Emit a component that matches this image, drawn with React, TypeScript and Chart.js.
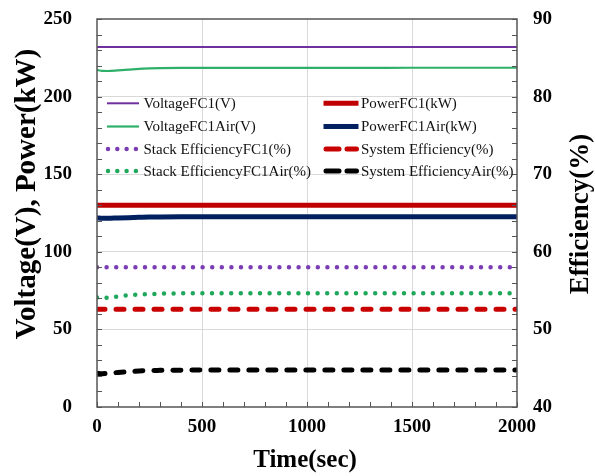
import { useEffect, useRef } from "react";
import { Chart, registerables } from "chart.js";

Chart.register(...registerables);

// ---- data ----
const timeSec = [0, 25, 50, 100, 150, 200, 250, 300, 400, 500, 750, 1000, 1250, 1500, 1750, 2000];
const voltageFC1 = [232, 232, 232, 232, 232, 232, 232, 232, 232, 232, 232, 232, 232, 232, 232, 232];
const voltageFC1Air = [217.2, 216.6, 216.5, 216.9, 217.4, 217.9, 218.2, 218.4, 218.5, 218.5, 218.5, 218.5, 218.5, 218.6, 218.6, 218.6];
const powerFC1 = [130, 130, 130, 130, 130, 130, 130, 130, 130, 130, 130, 130, 130, 130, 130, 130];
const powerFC1Air = [121.8, 121.6, 121.6, 121.8, 122.0, 122.2, 122.4, 122.5, 122.6, 122.6, 122.6, 122.6, 122.6, 122.6, 122.6, 122.6];
const stackEffFC1 = [58.0, 58.0, 58.0, 58.0, 58.0, 58.0, 58.0, 58.0, 58.0, 58.0, 58.0, 58.0, 58.0, 58.0, 58.0, 58.0];
const stackEffFC1Air = [54.1, 54.05, 54.1, 54.25, 54.4, 54.5, 54.55, 54.6, 54.65, 54.65, 54.65, 54.65, 54.65, 54.65, 54.65, 54.65];
const sysEff = [52.6, 52.6, 52.6, 52.6, 52.6, 52.6, 52.6, 52.6, 52.6, 52.6, 52.6, 52.6, 52.6, 52.6, 52.6, 52.6];
const sysEffAir = [44.35, 44.3, 44.35, 44.45, 44.55, 44.65, 44.7, 44.72, 44.75, 44.77, 44.77, 44.77, 44.77, 44.77, 44.77, 44.77];

const seriesLabels = [
  "VoltageFC1(V)",
  "PowerFC1(kW)",
  "VoltageFC1Air(V)",
  "PowerFC1Air(kW)",
  "Stack EfficiencyFC1(%)",
  "System Efficiency(%)",
  "Stack EfficiencyFC1Air(%)",
  "System EfficiencyAir(%)",
];

const xTitle = "Time(sec)";
const yTitle = "Voltage(V), Power(kW)";
const y1Title = "Efficiency(%)";

const X_MIN = 0, X_MAX = 2000, X_STEP = 500;
const Y_MIN = 0, Y_MAX = 250, Y_STEP = 50;
const Y1_MIN = 40, Y1_MAX = 90, Y1_STEP = 10;

const FONT = '"Liberation Serif", "Times New Roman", serif';

type Style = { color: string; width: number; kind: "solid" | "dot" | "dash" };
const styles: Style[] = [
  { color: "#7030A0", width: 2, kind: "solid" },
  { color: "#C00000", width: 5, kind: "solid" },
  { color: "#2EB06A", width: 2.2, kind: "solid" },
  { color: "#002060", width: 5, kind: "solid" },
  { color: "#7A3DB3", width: 4.5, kind: "dot" },
  { color: "#C80000", width: 5, kind: "dash" },
  { color: "#1FA85C", width: 4.5, kind: "dot" },
  { color: "#000000", width: 5, kind: "dash" },
];
const seriesValues = [voltageFC1, powerFC1, voltageFC1Air, powerFC1Air, stackEffFC1, sysEff, stackEffFC1Air, sysEffAir];
const seriesAxis = ["y", "y", "y", "y", "y1", "y1", "y1", "y1"];

const dashFor = (k: Style["kind"]) => (k === "dot" ? [0, 9.6] : k === "dash" ? [8, 11] : []);

const overlay = {
  id: "overlay",
  afterDatasetsDraw(chart: any) {
    const { ctx, chartArea, scales } = chart;
    const { left, right, top, bottom } = chartArea;
    ctx.save();
    // tick marks (inside)
    ctx.strokeStyle = "#555";
    ctx.lineWidth = 1;
    ctx.setLineDash([]);
    ctx.beginPath();
    for (let v = Y_MIN; v <= Y_MAX; v += 10) {
      const y = Math.round(scales.y.getPixelForValue(v)) + 0.5;
      ctx.moveTo(left, y);
      ctx.lineTo(left + 5, y);
    }
    for (let v = Y1_MIN; v <= Y1_MAX; v += 2) {
      const y = Math.round(scales.y1.getPixelForValue(v)) + 0.5;
      ctx.moveTo(right, y);
      ctx.lineTo(right - 5, y);
    }
    for (let v = X_MIN; v <= X_MAX; v += 100) {
      const x = Math.round(scales.x.getPixelForValue(v)) + 0.5;
      ctx.moveTo(x, bottom);
      ctx.lineTo(x, bottom - 5);
    }
    ctx.stroke();
    // frame
    ctx.lineWidth = 1.5;
    ctx.strokeStyle = "#555";
    ctx.strokeRect(left, top, right - left, bottom - top);

    // titles
    ctx.fillStyle = "#000";
    ctx.textAlign = "center";
    ctx.textBaseline = "middle";
    ctx.font = `bold 25px ${FONT}`;
    ctx.fillText(xTitle, (left + right) / 2 - 2, 461);
    ctx.save();
    ctx.translate(28, 194);
    ctx.rotate(-Math.PI / 2);
    ctx.font = `bold 29px ${FONT}`;
    ctx.fillText(yTitle, 0, 0);
    ctx.restore();
    ctx.save();
    ctx.translate(581, 214);
    ctx.rotate(-Math.PI / 2);
    ctx.font = `bold 27px ${FONT}`;
    ctx.fillText(y1Title, 0, 0);
    ctx.restore();

    // legend
    const rowsY = [103.3, 126.5, 149, 171];
    const cols = [
      { x0: 107, x1: 139, tx: 143.5 },
      { x0: 325.5, x1: 356.5, tx: 361 },
    ];
    ctx.font = `15px ${FONT}`;
    ctx.textAlign = "left";
    seriesLabels.forEach((lab, i) => {
      const st = styles[i];
      const c = cols[i % 2];
      const y = rowsY[Math.floor(i / 2)];
      ctx.beginPath();
      ctx.strokeStyle = st.color;
      ctx.lineWidth = st.width;
      if (st.kind === "dot") {
        ctx.setLineDash([0, 9.3]);
        ctx.lineCap = "round";
        ctx.moveTo(108, y);
        ctx.lineTo(137, y);
      } else if (st.kind === "dash") {
        ctx.setLineDash([13, 8]);
        ctx.lineCap = "round";
        ctx.moveTo(c.x0 + 0.5, y);
        ctx.lineTo(c.x1, y);
      } else {
        ctx.setLineDash([]);
        ctx.lineCap = "butt";
        ctx.moveTo(c.x0 - (i % 2 === 0 ? 0 : 2), y);
        ctx.lineTo(c.x1 + (i % 2 === 0 ? 0 : 2), y);
      }
      ctx.stroke();
      ctx.setLineDash([]);
      ctx.fillStyle = "#111";
      ctx.fillText(lab, c.tx, y + 1);
    });
    ctx.restore();
  },
};

export default function App() {
  const ref = useRef<HTMLCanvasElement | null>(null);
  useEffect(() => {
    if (!ref.current) return;
    const datasets = seriesLabels.map((label, i) => ({
      label,
      data: timeSec.map((t, j) => ({ x: t, y: seriesValues[i][j] })),
      yAxisID: seriesAxis[i],
      borderColor: styles[i].color,
      backgroundColor: styles[i].color,
      borderWidth: styles[i].width,
      borderDash: dashFor(styles[i].kind),
      borderCapStyle: styles[i].kind === "solid" ? "butt" : "round",
      pointRadius: 0,
      cubicInterpolationMode: "monotone",
      fill: false,
    }));
    const tickFont = { family: FONT, size: 19, weight: "bold" as const };
    const plain = (v: any) => String(v);
    const noPad = (s: any) => {
      s.paddingTop = 0;
      s.paddingBottom = 0;
      s.paddingLeft = 0;
      s.paddingRight = 0;
    };
    const chart = new Chart(ref.current, {
      type: "line",
      data: { datasets: datasets as any },
      plugins: [overlay],
      options: {
        animation: false,
        responsive: false,
        devicePixelRatio: 1,
        layout: { padding: { top: 19, left: 0, right: 0, bottom: 0 } },
        plugins: { legend: { display: false }, tooltip: { enabled: false } },
        scales: {
          x: {
            type: "linear",
            min: X_MIN,
            max: X_MAX,
            ticks: { stepSize: X_STEP, color: "#000", font: tickFont, padding: 9, maxRotation: 0, callback: plain },
            grid: {
              drawTicks: false,
              color: (c: any) => (c.tick && (c.tick.value === X_MIN || c.tick.value === X_MAX) ? "transparent" : "#d9d9d9"),
            },
            border: { display: false },
            afterFit: (s: any) => {
              s.height = 69;
              noPad(s);
            },
          },
          y: {
            position: "left",
            min: Y_MIN,
            max: Y_MAX,
            ticks: { stepSize: Y_STEP, color: "#000", font: tickFont, padding: 25, callback: plain },
            grid: {
              drawTicks: false,
              color: (c: any) => (c.tick && (c.tick.value === Y_MIN || c.tick.value === Y_MAX) ? "transparent" : "#d9d9d9"),
            },
            border: { display: false },
            afterFit: (s: any) => {
              s.width = 97;
              noPad(s);
            },
          },
          y1: {
            position: "right",
            min: Y1_MIN,
            max: Y1_MAX,
            ticks: { stepSize: Y1_STEP, color: "#000", font: tickFont, padding: 16, callback: plain },
            grid: { display: false, drawTicks: false },
            border: { display: false },
            afterFit: (s: any) => {
              s.width = 78;
              noPad(s);
            },
          },
        },
      } as any,
    });
    return () => chart.destroy();
  }, []);
  return (
    <canvas
      ref={ref}
      width={595}
      height={476}
      style={{ position: "absolute", left: 0, top: 0, width: 595, height: 476, background: "#fff" }}
    />
  );
}
